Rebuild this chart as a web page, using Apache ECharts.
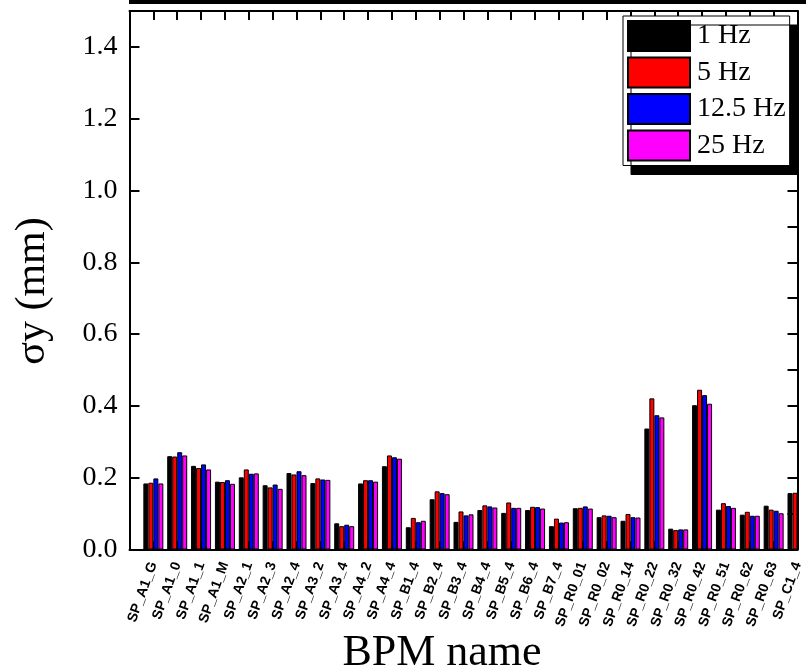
<!DOCTYPE html>
<html>
<head>
<meta charset="utf-8">
<script src="https://cdn.jsdelivr.net/npm/echarts@6/dist/echarts.min.js"></script>
<style>
  html, body { margin: 0; padding: 0; background: #fff; }
  #chart { width: 806px; height: 671px; }
</style>
</head>
<body>
<div id="chart"></div>
<script>
// BPM names, placed at x = 1..28 on the axis
const bpmNames = [
  'SP_A1_G', 'SP_A1_0', 'SP_A1_1', 'SP_A1_M', 'SP_A2_1', 'SP_A2_3', 'SP_A2_4',
  'SP_A3_2', 'SP_A3_4', 'SP_A4_2', 'SP_A4_4', 'SP_B1_4', 'SP_B2_4', 'SP_B3_4',
  'SP_B4_4', 'SP_B5_4', 'SP_B6_4', 'SP_B7_4', 'SP_R0_01', 'SP_R0_02', 'SP_R0_14',
  'SP_R0_22', 'SP_R0_32', 'SP_R0_42', 'SP_R0_51', 'SP_R0_62', 'SP_R0_63', 'SP_C1_4'
];

// sigma-y (mm) per BPM for each sampling rate
const sigma1Hz = [
  0.184, 0.260, 0.233, 0.189, 0.201, 0.179, 0.213, 0.185, 0.073, 0.184, 0.232, 0.062, 0.140, 0.077,
  0.110, 0.102, 0.110, 0.065, 0.115, 0.090, 0.080, 0.337, 0.058, 0.402, 0.111, 0.097, 0.122, 0.157
];
const sigma5Hz = [
  0.186, 0.259, 0.227, 0.188, 0.223, 0.173, 0.209, 0.198, 0.065, 0.193, 0.262, 0.088, 0.162, 0.106,
  0.123, 0.131, 0.119, 0.086, 0.116, 0.095, 0.099, 0.421, 0.054, 0.445, 0.129, 0.105, 0.111, 0.158
];
const sigma12p5Hz = [
  0.198, 0.271, 0.237, 0.193, 0.211, 0.181, 0.218, 0.195, 0.069, 0.193, 0.257, 0.076, 0.157, 0.095,
  0.120, 0.116, 0.118, 0.075, 0.120, 0.094, 0.090, 0.374, 0.056, 0.430, 0.121, 0.094, 0.108, null
];
const sigma25Hz = [
  0.184, 0.262, 0.223, 0.183, 0.212, 0.169, 0.207, 0.194, 0.065, 0.189, 0.253, 0.080, 0.154, 0.098,
  0.117, 0.116, 0.114, 0.076, 0.114, 0.090, 0.089, 0.368, 0.056, 0.406, 0.116, 0.094, 0.101, null
];

const seriesNames = ['1 Hz', '5 Hz', '12.5 Hz', '25 Hz'];
const seriesColors = ['#000000', '#ff0000', '#0000ff', '#ff00ff'];
const seriesValues = [sigma1Hz, sigma5Hz, sigma12p5Hz, sigma25Hz];

const yMin = 0, yMax = 1.5, yStep = 0.2, yMinorStep = 0.1;
const xMin = 0, xMax = 28;

const serif = '"Liberation Serif", "Times New Roman", serif';
const sans = '"Liberation Sans", Arial, sans-serif';

const W = 806, gridLeft = 129.5, gridRight = 8.5;
const plotWidth = W - gridLeft - gridRight;

const chart = echarts.init(document.getElementById('chart'), null, { renderer: 'canvas' });

// frame lines stay on the grid edges instead of crossing at zero
const frameLine = { show: true, onZero: false, lineStyle: { color: '#000', width: 2 } };
const tickStyle = { color: '#000', width: 2 };

const option = {
  animation: false,
  backgroundColor: '#fff',
  grid: { left: gridLeft, right: gridRight, top: 11, bottom: 121.5, containLabel: false },
  xAxis: [
    {
      type: 'value', position: 'bottom', min: xMin, max: xMax, interval: 1,
      axisLine: frameLine,
      axisTick: { show: true, inside: true, length: 8, lineStyle: tickStyle },
      splitLine: { show: false },
      axisLabel: {
        rotate: 70, margin: 13, interval: 0, hideOverlap: false,
        fontFamily: sans, fontWeight: 'bold', fontSize: 14, color: '#000',
        formatter: v => (v >= 1 && v <= bpmNames.length) ? bpmNames[v - 1] : ''
      }
    },
    {
      type: 'value', position: 'top', min: xMin, max: xMax, interval: 1,
      axisLine: frameLine,
      axisTick: { show: true, inside: true, length: 9, lineStyle: tickStyle },
      splitLine: { show: false },
      axisLabel: { show: false }
    }
  ],
  yAxis: [
    {
      type: 'value', position: 'left', min: yMin, max: yMax, interval: yStep,
      axisLine: frameLine,
      axisTick: { show: true, inside: true, length: 10, lineStyle: tickStyle },
      splitLine: { show: false },
      axisLabel: {
        margin: 12, showMaxLabel: false,
        fontFamily: serif, fontSize: 28, color: '#000',
        formatter: v => v.toFixed(1)
      }
    },
    {
      // right-hand frame: a left-type axis shifted across the plot, ticks pointing back inward
      type: 'value', position: 'left', offset: -plotWidth,
      min: yMin, max: yMax, interval: yMinorStep,
      axisLine: frameLine,
      axisTick: { show: true, inside: false, length: 10, lineStyle: tickStyle },
      splitLine: { show: false },
      axisLabel: { show: false }
    }
  ],
  legend: {
    orient: 'vertical', left: 623, top: 16,
    itemWidth: 62, itemHeight: 30, itemGap: 4.5,
    padding: [4, 4, 4, 4],
    icon: 'rect',
    backgroundColor: '#fff', borderColor: '#000', borderWidth: 1,
    shadowColor: '#000', shadowBlur: 0, shadowOffsetX: 8, shadowOffsetY: 9,
    textStyle: { fontFamily: serif, fontSize: 28, color: '#000', padding: [0, 0, 0, 2] },
    data: seriesNames
  },
  series: seriesValues.map((vals, k) => ({
    name: seriesNames[k],
    type: 'bar',
    xAxisIndex: 0, yAxisIndex: 0,
    barWidth: 5, barGap: '0%',
    clip: true,
    itemStyle: { color: seriesColors[k], borderColor: '#000', borderWidth: 1 },
    data: vals.map((v, i) => [i + 1, v]).filter(d => d[1] != null)
  })),
  graphic: [
    { type: 'rect', silent: true, shape: { x: 129, y: 0, width: 677, height: 4 }, style: { fill: '#000' } },
    {
      type: 'text', x: 33, y: 291, rotation: Math.PI / 2,
      style: { text: 'σy (mm)', font: '42px ' + serif, fill: '#000',
               align: 'center', verticalAlign: 'middle', textAlign: 'center', textVerticalAlign: 'middle' }
    },
    {
      type: 'text', x: 442, y: 653,
      style: { text: 'BPM name', font: '44px ' + serif, fill: '#000',
               align: 'center', verticalAlign: 'middle', textAlign: 'center', textVerticalAlign: 'middle' }
    }
  ]
};

chart.setOption(option);
</script>
</body>
</html>
